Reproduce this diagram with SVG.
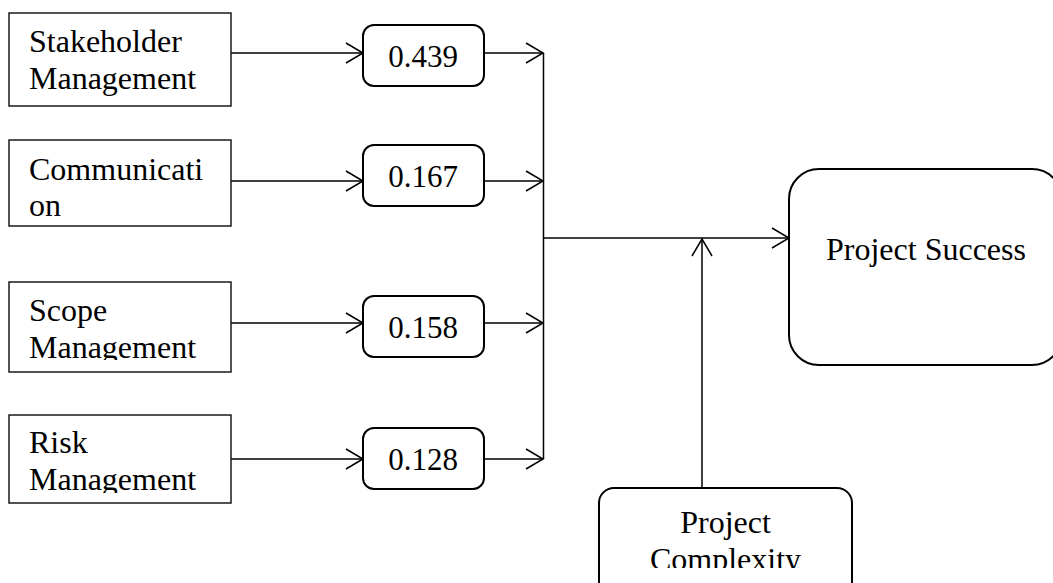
<svg xmlns="http://www.w3.org/2000/svg" width="1053" height="583" viewBox="0 0 1053 583">
<style>
.box{fill:#fff;stroke:#1a1a1a;stroke-width:1.5}
.rbox{fill:#fff;stroke:#000;stroke-width:2}
.t{font-family:"Liberation Serif","Times New Roman",serif;font-size:32px;fill:#000}
.n{font-family:"Liberation Serif","Times New Roman",serif;font-size:31px;fill:#000;text-anchor:middle}
.c{fill:none;stroke:#000;stroke-width:1.5}
</style>
<defs>
<marker id="arr" markerUnits="userSpaceOnUse" markerWidth="20" markerHeight="24" refX="17" refY="10" orient="auto" overflow="visible">
<path d="M0,0 L17,10 L0,20" fill="none" stroke="#000" stroke-width="1.5"/>
</marker>
<clipPath id="clipScope"><rect x="9" y="282" width="222" height="78"/></clipPath>
<clipPath id="clipRisk"><rect x="9" y="415" width="222" height="78"/></clipPath>
<clipPath id="clipCx"><rect x="599" y="488" width="253" height="80"/></clipPath>
</defs>
<rect width="1053" height="583" fill="#fff"/>
<g id="connectors">
<path class="c" d="M231,53 H363" marker-end="url(#arr)"/>
<path class="c" d="M231,181 H363" marker-end="url(#arr)"/>
<path class="c" d="M231,323 H363" marker-end="url(#arr)"/>
<path class="c" d="M231,459 H363" marker-end="url(#arr)"/>
<path class="c" d="M484,53 H543" marker-end="url(#arr)"/>
<path class="c" d="M484,181 H543" marker-end="url(#arr)"/>
<path class="c" d="M484,323 H543" marker-end="url(#arr)"/>
<path class="c" d="M484,459 H543" marker-end="url(#arr)"/>
<path class="c" d="M543.5,53 V459"/>
<path class="c" d="M543.5,238 H789" marker-end="url(#arr)"/>
<path class="c" d="M702,488 V239" marker-end="url(#arr)"/>
</g>
<g id="stakeholder">
<rect class="box" x="9" y="13" width="222" height="93"/>
<text class="t" x="29" y="52">Stakeholder</text>
<text class="t" x="29" y="89">Management</text>
</g>
<g id="communication">
<rect class="box" x="9" y="140" width="222" height="86"/>
<text class="t" x="29" y="180">Communicati</text>
<text class="t" x="29" y="216">on</text>
</g>
<g id="scope">
<rect class="box" x="9" y="282" width="222" height="90"/>
<g clip-path="url(#clipScope)">
<text class="t" x="29" y="321">Scope</text>
<text class="t" x="29" y="358">Management</text>
</g>
</g>
<g id="risk">
<rect class="box" x="9" y="415" width="222" height="88"/>
<g clip-path="url(#clipRisk)">
<text class="t" x="29" y="453">Risk</text>
<text class="t" x="29" y="490">Management</text>
</g>
</g>
<g id="v439">
<rect class="rbox" x="363" y="25" width="121" height="61" rx="11"/>
<text class="n" x="423" y="67">0.439</text>
</g>
<g id="v167">
<rect class="rbox" x="363" y="145" width="121" height="61" rx="11"/>
<text class="n" x="423" y="187">0.167</text>
</g>
<g id="v158">
<rect class="rbox" x="363" y="296" width="121" height="61" rx="11"/>
<text class="n" x="423" y="338">0.158</text>
</g>
<g id="v128">
<rect class="rbox" x="363" y="428" width="121" height="61" rx="11"/>
<text class="n" x="423" y="470">0.128</text>
</g>
<g id="success">
<rect class="rbox" x="789" y="169" width="273" height="196" rx="30"/>
<text class="t" x="826" y="260">Project Success</text>
</g>
<g id="complexity">
<rect class="rbox" x="599" y="488" width="253" height="110" rx="15"/>
<g clip-path="url(#clipCx)">
<text class="t" x="725.5" y="533" text-anchor="middle">Project</text>
<text class="t" x="725.5" y="570" text-anchor="middle">Complexity</text>
</g>
</g>
</svg>
